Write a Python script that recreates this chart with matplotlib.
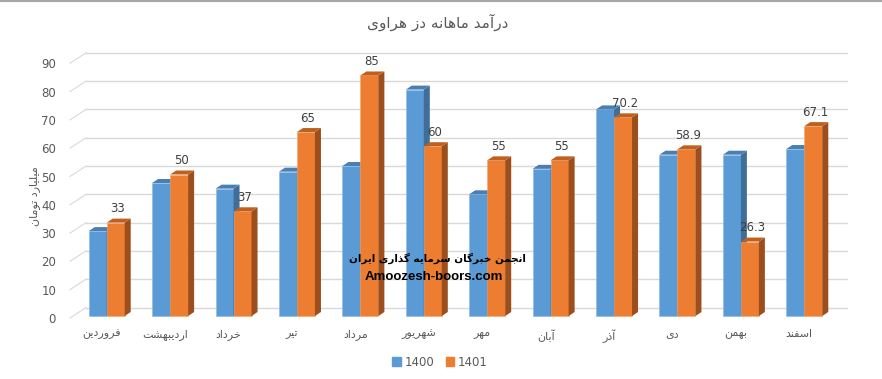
import numpy as np
import matplotlib.pyplot as plt
from matplotlib.patches import Polygon, Patch
from matplotlib.lines import Line2D

# data
months = ['فروردین', 'اردیبهشت', 'خرداد', 'تیر', 'مرداد', 'شهریور',
          'مهر', 'آبان', 'آذر', 'دی', 'بهمن', 'اسفند']
y1400 = [30, 47, 45, 51, 53, 80, 43, 52, 73, 57, 57, 59]
y1401 = [33, 50, 37, 65, 85, 60, 55, 55, 70.2, 58.9, 26.3, 67.1]
labels1401 = ['33', '50', '37', '65', '85', '60', '55', '55', '70.2', '58.9', '26.3', '67.1']
series = ['1400', '1401']
yticks = list(range(0, 100, 10))
title = 'درآمد ماهانه دز هراوی'
ylabel = 'میلیارد تومان'
mark1 = 'انجمن خبرگان سرمایه گذاری ایران'
mark2 = 'Amoozesh-boors.com'

# minimal arabic/persian shaping (isolated, final, initial, medial)
FORMS = {
    'ا': '\uFE8D\uFE8E', 'آ': '\uFE81\uFE82',
    'ب': '\uFE8F\uFE90\uFE91\uFE92', 'ت': '\uFE95\uFE96\uFE97\uFE98',
    'ج': '\uFE9D\uFE9E\uFE9F\uFEA0', 'خ': '\uFEA5\uFEA6\uFEA7\uFEA8',
    'د': '\uFEA9\uFEAA', 'ذ': '\uFEAB\uFEAC', 'ر': '\uFEAD\uFEAE', 'ز': '\uFEAF\uFEB0',
    'س': '\uFEB1\uFEB2\uFEB3\uFEB4', 'ش': '\uFEB5\uFEB6\uFEB7\uFEB8',
    'ف': '\uFED1\uFED2\uFED3\uFED4', 'ل': '\uFEDD\uFEDE\uFEDF\uFEE0',
    'م': '\uFEE1\uFEE2\uFEE3\uFEE4', 'ن': '\uFEE5\uFEE6\uFEE7\uFEE8',
    'ه': '\uFEE9\uFEEA\uFEEB\uFEEC', 'و': '\uFEED\uFEEE',
    'ی': '\uFBFC\uFBFD\uFBFE\uFBFF', 'گ': '\uFB92\uFB93\uFB94\uFB95',
}


def shape(s):
    out = []
    for i, c in enumerate(s):
        if c not in FORMS:
            out.append(c)
            continue
        f = FORMS[c]
        prev = s[i - 1] if i > 0 else ''
        nxt = s[i + 1] if i + 1 < len(s) else ''
        jp = prev in FORMS and len(FORMS[prev]) == 4
        jn = nxt in FORMS and len(f) == 4
        if jp and jn:
            out.append(f[3])
        elif jp:
            out.append(f[1])
        elif jn:
            out.append(f[2])
        else:
            out.append(f[0])
    return ''.join(out)[::-1]


W, H = 882, 379
fig = plt.figure(figsize=(W / 100, H / 100), dpi=100)
ax = fig.add_axes([70 / W, (H - 318) / H, 761 / W, 254.7 / H])
ax.set_xlim(-0.5, 11.5)
ax.set_ylim(0, 90)
ux = 761 / 12.0
uy = 254.7 / 90.0

gray = '#595959'
grid = '#d9d9d9'

# back wall gridlines + diagonal ticks
wdx, wdy = 16 / ux, 10.5 / uy
for v in yticks:
    ax.plot([-0.5, -0.5 + wdx], [v, v + wdy], color=grid, lw=0.8, clip_on=False, zorder=1)
    ax.plot([-0.5 + wdx, 11.5 + wdx], [v + wdy, v + wdy], color=grid, lw=1.0, clip_on=False, zorder=1)

# bars
bw = 18 / ux
sx, sy = 5 / ux, 2 / uy
bdx, bdy = 6 / ux, 4 / uy
styles = [('#5b9bd5', '#3f6e99', '#4a7fb3', '#8db8e2'),
          ('#ed7d31', '#9c4e1c', '#c0601f', '#f2a673')]
xs = np.arange(len(months))
for k, vals in enumerate([y1400, y1401]):
    front, side, top, edge = styles[k]
    x0s = xs + sx - bw + k * bw
    ax.bar(x0s, vals, width=bw, bottom=sy, align='edge', color=front,
           edgecolor=edge, linewidth=0.4, zorder=3, clip_on=False)
    for x0, v in zip(x0s, vals):
        x1 = x0 + bw
        t = sy + v
        ax.add_patch(Polygon([(x1, sy), (x1, t), (x1 + bdx, t + bdy), (x1 + bdx, sy + bdy)],
                             closed=True, fc=side, ec='none', zorder=3, clip_on=False))
        ax.add_patch(Polygon([(x0, t), (x1, t), (x1 + bdx, t + bdy), (x0 + bdx, t + bdy)],
                             closed=True, fc=top, ec='none', zorder=3, clip_on=False))

# value labels on 1401
for x, v, lab in zip(xs, y1401, labels1401):
    ax.annotate(lab, (x + sx + bw / 2 + 2 / ux, sy + v), xytext=(0, 14),
                textcoords='offset pixels', ha='center', va='center',
                fontsize=8.5, color='#404040', zorder=5)

for s in ax.spines.values():
    s.set_visible(False)
ax.set_yticks(yticks)
ax.set_yticklabels([str(v) for v in yticks])
ax.set_xticks(xs)
ax.set_xticklabels([shape(m) for m in months])
ax.tick_params(axis='y', length=0, pad=10, labelsize=8.5, labelcolor=gray)
ax.tick_params(axis='x', length=0, pad=8, labelsize=8, labelcolor=gray)

fig.text(438 / W, 1 - 22 / H, shape(title), ha='center', va='center', fontsize=11, color=gray)
fig.text(35 / W, 1 - 196 / H, shape(ylabel), rotation=90, ha='center', va='center',
         fontsize=8, color=gray)
fig.text(437 / W, 1 - 258 / H, shape(mark1), ha='center', va='center', fontsize=7.5,
         fontweight='bold', color='black', zorder=6)
fig.text(434 / W, 1 - 277 / H, mark2, ha='center', va='center', fontsize=9.5,
         fontweight='bold', color='black', family='Liberation Sans', zorder=6)

handles = [Patch(color=styles[0][0]), Patch(color=styles[1][0])]
fig.legend(handles, series, loc='center', bbox_to_anchor=(440 / W, 1 - 362 / H), ncol=2,
           frameon=False, fontsize=8.5, labelcolor=gray, handlelength=0.7, handleheight=0.7,
           handletextpad=0.3, columnspacing=1.0)

fig.add_artist(Line2D([0, 1], [1 - 0.5 / H, 1 - 0.5 / H], color='#a6a6a6', lw=1.5))

fig.savefig('out.png', dpi=100)
